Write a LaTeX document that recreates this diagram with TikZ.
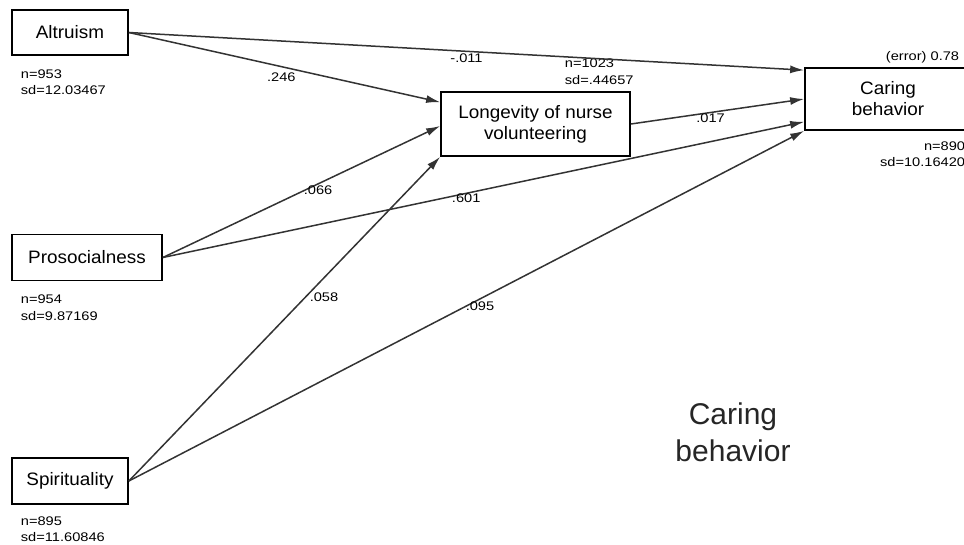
\documentclass[tikz,border=0pt]{standalone}
\usepackage{fontspec}
\setmainfont{Liberation Sans}
\newfontfamily\statfont[FakeStretch=1.17]{Liberation Sans}
\newfontfamily\boxfont[FakeStretch=1.05]{Liberation Sans}
\usetikzlibrary{arrows.meta}
\tikzset{
  every picture/.style={
    line width=1.5pt,
    >={Latex[width=8pt, length=14pt]}
  },
  var/.style={
    draw=black, line width=1.7pt, inner sep=0pt, align=center,
    font=\boxfont\fontsize{18}{21}\selectfont
  },
  stats/.style={
    inner sep=0pt,
    font=\statfont\fontsize{12.5}{16.5}\selectfont
  }
}

\begin{document}
\begin{tikzpicture}[
      x=1pt, y=-1pt,
      eff/.style={->, draw=black!80},
      coef/.style={inner sep=0pt, font=\statfont\fontsize{12.5}{15}\selectfont}
    ]
      \useasboundingbox (0,0) rectangle (964,544);
      \clip (0,0) rectangle (964,544);
      \node [var, minimum width=116pt, minimum height=45pt] (alt) at (70,32.5) {Altruism};
      \node [var, minimum width=150pt, minimum height=46pt] (pros) at (87,257.5) {Prosocialness};
      \node [var, minimum width=116pt, minimum height=46pt] (spir) at (70,481) {Spirituality};
      \node [var, minimum width=189pt, minimum height=64pt] (lng) at (535.5,124) {Longevity of nurse\\volunteering};
      \node [var, minimum width=166pt, minimum height=62pt] (care) at (888,99) {Caring\\behavior};
      % sample sizes and deviations
      \node [stats, anchor=north west, align=left] (altst) at ([xshift=9pt,yshift=-13pt]alt.south west) {n=953\\sd=12.03467};
      \node [stats, anchor=north west, align=left] (prosst) at ([xshift=9pt,yshift=-13pt]pros.south west) {n=954\\sd=9.87169};
      \node [stats, anchor=north west, align=left] (spirst) at ([xshift=9pt,yshift=-11pt]spir.south west) {n=895\\sd=11.60846};
      \node [stats, anchor=south west, align=left] (lngst) at ([xshift=124pt,yshift=6pt]lng.north west) {n=1023\\sd=.44657};
      \node [stats, anchor=north east, align=right] (carest) at ([xshift=-6pt,yshift=-10pt]care.south east) {n=890\\sd=10.16420};
      \node [stats, anchor=base east] (err) at ([xshift=-12pt,yshift=7pt]care.north east) {(error) 0.78};
      % paths
      \draw [eff] (alt.east) -- ([yshift=-3pt]care.north west) node [coef, pos=0.5, below=2pt] (c1) {-.011};
      \draw [eff] (alt.east) -- ([yshift=-11pt]lng.north west) node [coef, pos=0.49, below=5pt] (c2) {.246};
      \draw [eff] (pros.east) -- ([yshift=-2pt]lng.west) node [coef, pos=0.56, below=1pt] (c3) {.066};
      \draw [eff] (pros.east) -- ([yshift=9pt]care.south west) node [coef, pos=0.473, below=0pt] (c4) {.601};
      \draw [eff] (spir.east) -- (lng.south west) node [coef, pos=0.566, right=4pt] (c5) {.058};
      \draw [eff] (spir.east) -- (care.south west) node [coef, pos=0.52, below=2pt] (c6) {.095};
      \draw [eff] (lng.east) -- (care.west) node [coef, pos=0.46, below=1pt] (c7) {.017};
      \node [font=\fontsize{30}{37}\selectfont, align=center, text=black!85] (title) at (733,432) {Caring\\behavior};
    \end{tikzpicture}
\end{document}
